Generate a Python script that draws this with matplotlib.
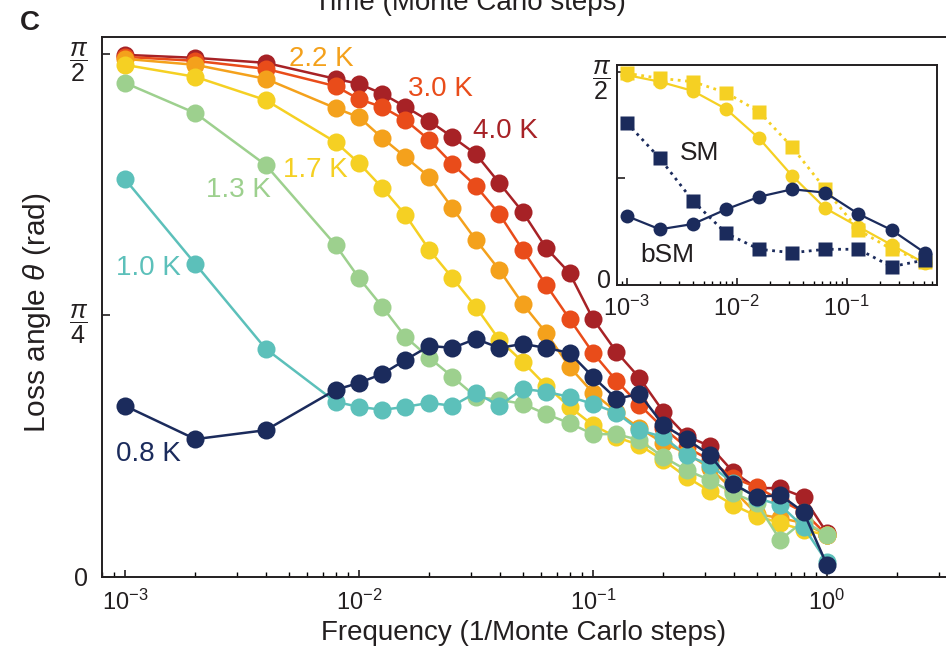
import numpy as np
import matplotlib
matplotlib.use("Agg")
import matplotlib.pyplot as plt
from matplotlib.transforms import ScaledTranslation

plt.rcParams['font.family'] = ['Liberation Sans', 'DejaVu Sans']
plt.rcParams['mathtext.fontset'] = 'custom'
plt.rcParams['mathtext.rm'] = 'Liberation Sans'
plt.rcParams['mathtext.it'] = 'Liberation Sans:italic'
plt.rcParams['mathtext.bf'] = 'Liberation Sans:bold'

## Données (angle de perte en rad)
freq = [1e-3, 2e-3, 4e-3, 7.94e-3, 1.0e-2, 1.26e-2, 1.58e-2, 2.0e-2, 2.51e-2,
        3.16e-2, 3.98e-2, 5.01e-2, 6.31e-2, 7.94e-2, 1.0e-1, 1.26e-1, 1.58e-1,
        2.0e-1, 2.51e-1, 3.16e-1, 3.98e-1, 5.01e-1, 6.31e-1, 7.94e-1, 1.0]

theta_40 = [1.568, 1.559, 1.544, 1.496, 1.481, 1.451, 1.412, 1.369, 1.321, 1.270,
            1.183, 1.096, 0.988, 0.913, 0.775, 0.676, 0.598, 0.496, 0.423, 0.393,
            0.315, 0.267, 0.267, 0.240, 0.132]
theta_30 = [1.562, 1.550, 1.526, 1.474, 1.435, 1.411, 1.372, 1.312, 1.240, 1.174,
            1.090, 0.982, 0.877, 0.775, 0.673, 0.589, 0.517, 0.447, 0.390, 0.351,
            0.297, 0.270, 0.231, 0.195, 0.126]
theta_22 = [1.556, 1.538, 1.496, 1.408, 1.381, 1.318, 1.261, 1.201, 1.108, 1.012,
            0.922, 0.820, 0.733, 0.631, 0.553, 0.496, 0.447, 0.402, 0.372, 0.327,
            0.261, 0.189, 0.177, 0.162, 0.126]
theta_17 = [1.538, 1.502, 1.432, 1.306, 1.243, 1.168, 1.087, 0.982, 0.898, 0.811,
            0.712, 0.646, 0.574, 0.511, 0.456, 0.420, 0.396, 0.351, 0.300, 0.258,
            0.216, 0.183, 0.162, 0.141, 0.126]
theta_13 = [1.484, 1.393, 1.237, 0.997, 0.898, 0.811, 0.721, 0.658, 0.601, 0.541,
            0.532, 0.520, 0.489, 0.462, 0.429, 0.429, 0.411, 0.360, 0.321, 0.291,
            0.252, 0.222, 0.111, 0.168, 0.126]
theta_10 = [1.195, 0.940, 0.685, 0.526, 0.511, 0.502, 0.511, 0.523, 0.514, 0.553,
            0.514, 0.565, 0.556, 0.541, 0.520, 0.493, 0.441, 0.420, 0.366, 0.336,
            0.282, 0.237, 0.216, 0.150, 0.045]
theta_08 = [0.514, 0.414, 0.441, 0.562, 0.583, 0.610, 0.652, 0.694, 0.688, 0.715,
            0.688, 0.700, 0.688, 0.673, 0.601, 0.535, 0.550, 0.456, 0.414, 0.366,
            0.279, 0.240, 0.246, 0.195, 0.036]

temperatures = ['4.0 K', '3.0 K', '2.2 K', '1.7 K', '1.3 K', '1.0 K', '0.8 K']
series = [theta_40, theta_30, theta_22, theta_17, theta_13, theta_10, theta_08]
couleurs = ['#A72226', '#E94C1A', '#F4A11C', '#F5D023', '#9DD08E', '#5CC0BA', '#1B2B5C']

# encart : SM / bSM
freq_in = [1e-3, 2e-3, 4e-3, 8e-3, 1.6e-2, 3.2e-2, 6.4e-2, 0.128, 0.256, 0.512]
bsm_haut = [1.546, 1.497, 1.429, 1.296, 1.080, 0.803, 0.565, 0.429, 0.295, 0.160]
sm_haut = [1.559, 1.522, 1.497, 1.416, 1.276, 1.014, 0.705, 0.405, 0.263, 0.172]
bsm_bas = [0.508, 0.410, 0.449, 0.557, 0.650, 0.705, 0.680, 0.523, 0.405, 0.238]
sm_bas = [1.195, 0.933, 0.619, 0.381, 0.263, 0.238, 0.263, 0.263, 0.135, 0.184]

texte = '#231F20'
W, H = 946, 650

def fx(px):
    return px / W

def fy(py):
    return 1 - py / H

fig = plt.figure(figsize=(W / 100, H / 100), dpi=100)

## Axe principal
ax = fig.add_axes([fx(102), fy(577), fx(946 - 102), (577 - 37) / H])
for th, c in zip(series, couleurs):
    ax.plot(freq, th, '-o', color=c, lw=1.8, ms=13, mec='none', clip_on=False)

ax.set_xscale('log')
ax.set_xlim(10 ** -3.098, 10 ** 0.5085)
ax.set_ylim(0, 1.6216)
ax.set_yticks([0, np.pi / 4, np.pi / 2])
ax.set_yticklabels(['0', r'$\dfrac{\pi}{4}$', r'$\dfrac{\pi}{2}$'], fontsize=18)
ax.tick_params(axis='x', which='major', direction='in', length=5, width=1.2, labelsize=17, pad=9, colors=texte)
ax.tick_params(axis='x', which='minor', direction='in', length=3.5, width=1.0)
ax.tick_params(axis='y', direction='in', length=6, width=1.2, pad=10, colors=texte)
ax.spines['right'].set_visible(False)
for s in ['left', 'bottom', 'top']:
    ax.spines[s].set_linewidth(1.4)
    ax.spines[s].set_color(texte)
ax.set_xlabel('Frequency (1/Monte Carlo steps)', fontsize=20, color=texte, labelpad=4)
ax.set_ylabel(r'Loss angle $\theta$ (rad)', fontsize=21.5, color=texte)
ax.yaxis.set_label_coords(-0.058, 0.489)

# étiquettes des courbes
etiquettes = [(505, 131), (440, 89), (321, 59), (315, 170), (238, 190), (148, 268), (148, 454)]
for (px, py), t, c in zip(etiquettes, temperatures, couleurs):
    fig.text(fx(px), fy(py), t, color=c, fontsize=20, ha='center', va='center')

## Encart
axi = fig.add_axes([fx(616.7), fy(285), fx(937 - 616.7), (285 - 65) / H])
axi.plot(freq_in, sm_haut, ':s', color=couleurs[3], lw=2, ms=9.5, mec='none')
axi.plot(freq_in, bsm_haut, '-o', color=couleurs[3], lw=1.6, ms=10, mec='none')
axi.plot(freq_in, sm_bas, ':s', color=couleurs[6], lw=2, ms=9.5, mec='none')
axi.plot(freq_in, bsm_bas, '-o', color=couleurs[6], lw=1.6, ms=10, mec='none')
axi.set_xscale('log')
axi.set_xlim(10 ** -3.091, 10 ** -0.179)
axi.set_ylim(0, 1.62)
axi.set_yticks([0, np.pi / 4, np.pi / 2])
axi.set_yticklabels(['0', '', r'$\dfrac{\pi}{2}$'], fontsize=18)
axi.tick_params(axis='x', which='major', direction='in', length=5, width=1.2, labelsize=17, pad=8, colors=texte)
axi.tick_params(axis='x', which='minor', direction='in', length=3, width=1.0)
axi.tick_params(axis='y', direction='in', length=6, width=1.2, pad=4, colors=texte)
for s in axi.spines.values():
    s.set_linewidth(1.4)
    s.set_color(texte)
# le "0" de l'encart est un peu remonté
zero = axi.get_yticklabels()[0]
zero.set_transform(zero.get_transform() + ScaledTranslation(0, 5 / 72, fig.dpi_scale_trans))
fig.text(fx(700), fy(153), 'SM', color=texte, fontsize=19, ha='center', va='center')
fig.text(fx(667), fy(255), 'bSM', color=texte, fontsize=19, ha='center', va='center')

## Textes de la figure
fig.text(fx(470), fy(10), 'Time (Monte Carlo steps)', fontsize=20, color=texte, ha='center', va='baseline')
fig.text(fx(30), fy(23), 'C', fontsize=20, fontweight='bold', color=texte, ha='center', va='center')

fig.savefig('out.png', dpi=100)
